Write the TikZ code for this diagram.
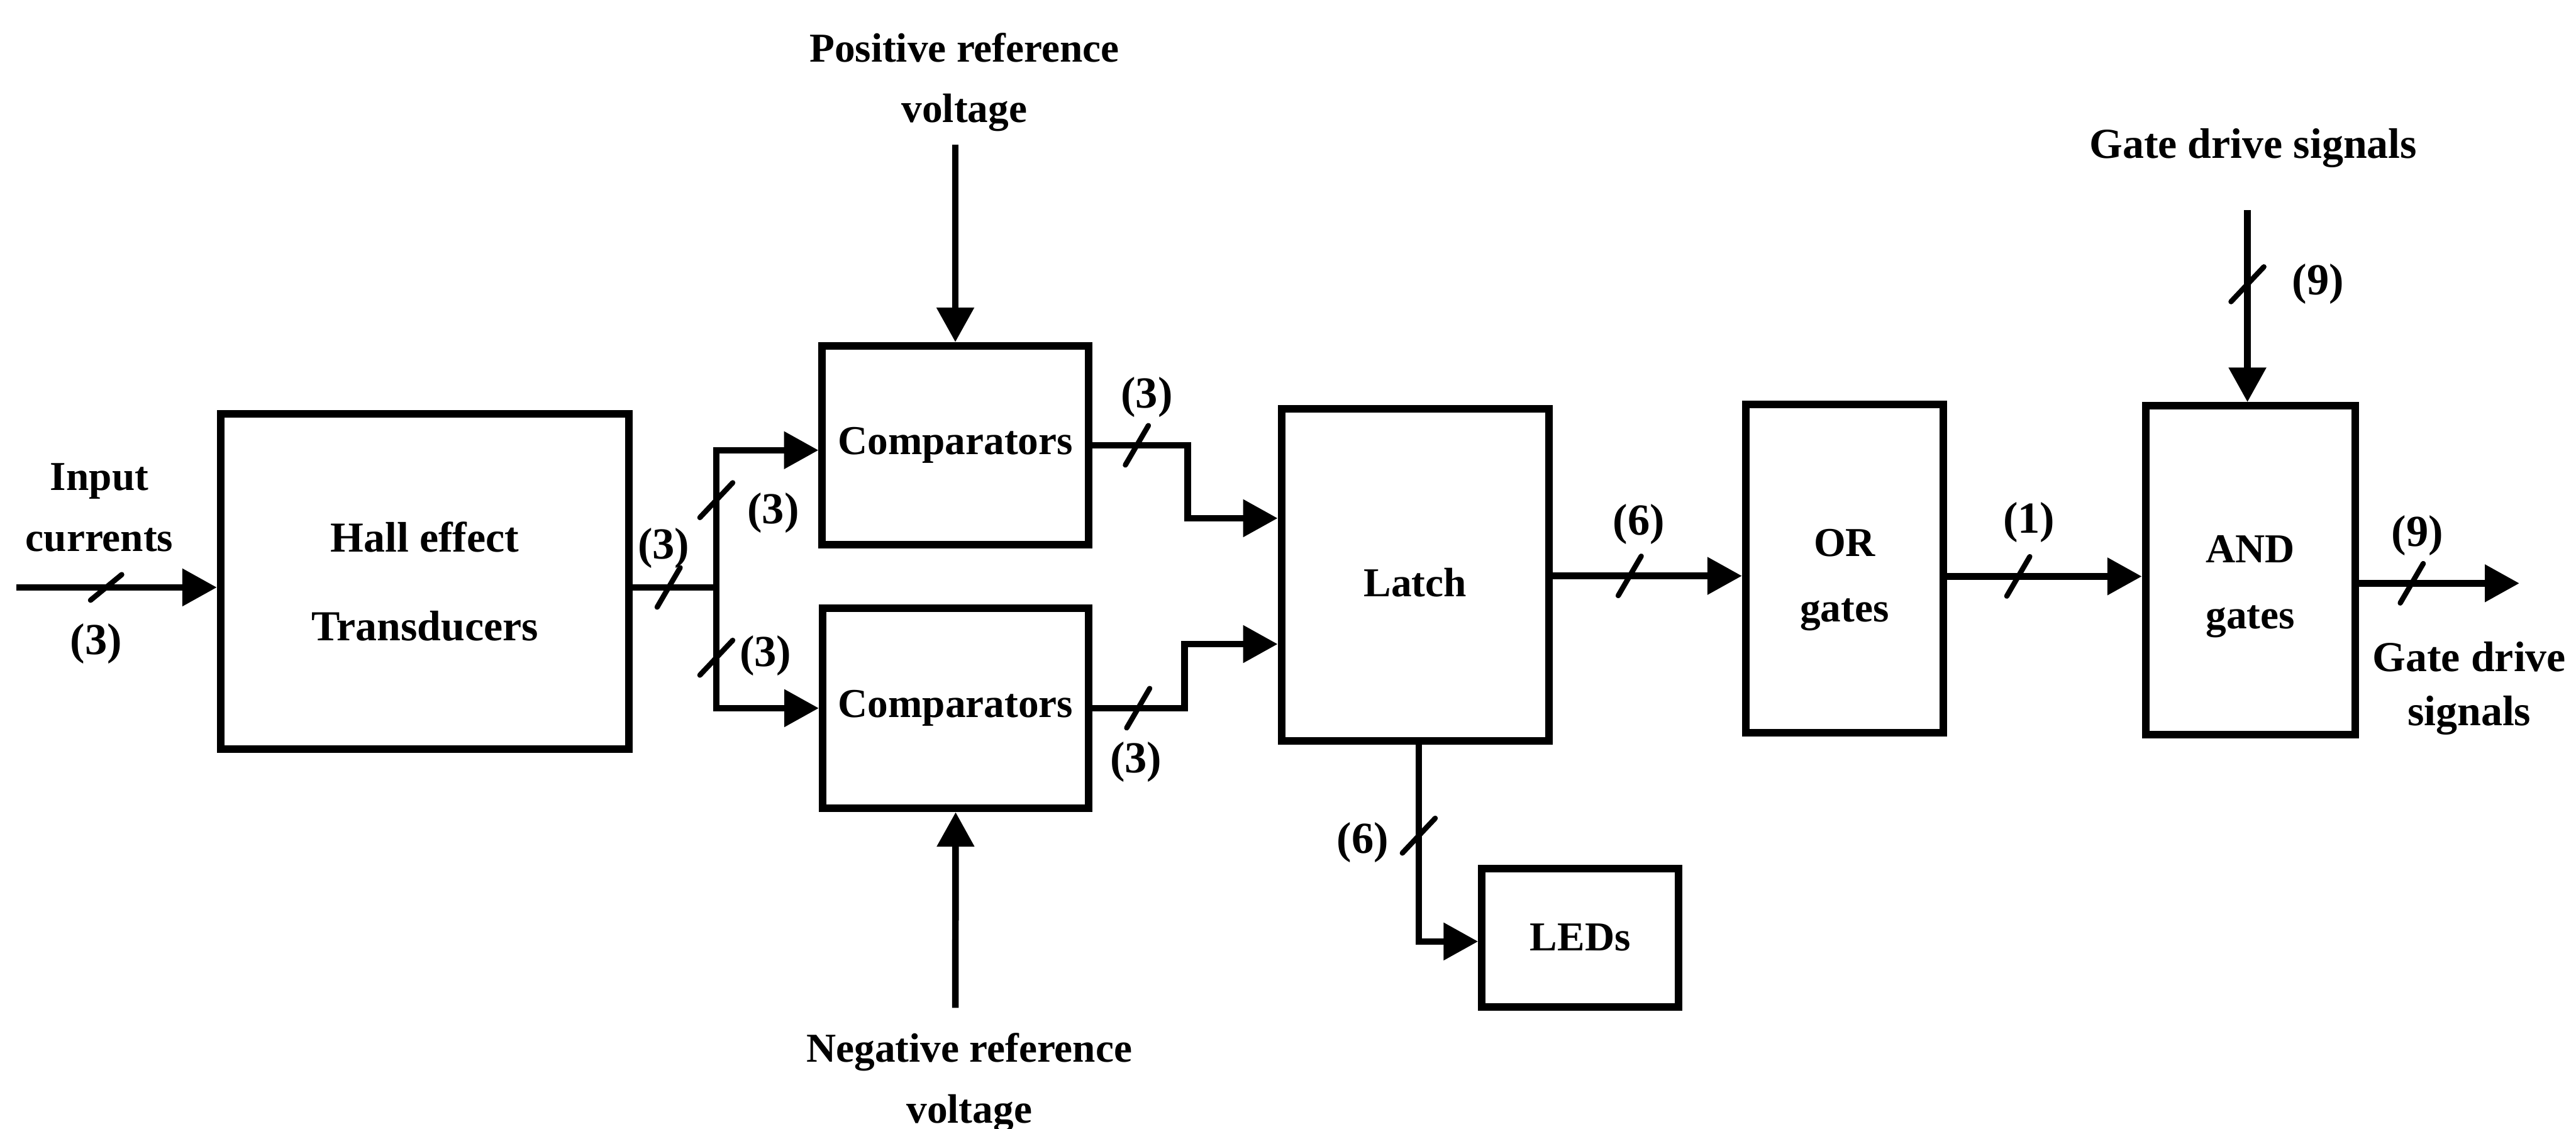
\documentclass[tikz,border=0pt]{standalone}
\usepackage{fontspec}
\setmainfont{Liberation Serif}
\usetikzlibrary{arrows.meta}
\begin{document}
\begin{tikzpicture}[x=0.5pt,y=-0.5pt,
  blk/.style={draw,line width=2.3pt,inner sep=0pt,align=center,font=\fontsize{12.5}{18.5}\selectfont\bfseries},
  wire/.style={line width=2pt},
  arr/.style={wire,-{Triangle[length=10.5pt,width=11pt]}},
  lbl/.style={inner sep=0pt,align=center,font=\fontsize{12.5}{18.5}\selectfont\bfseries},
  num/.style={inner sep=0pt,font=\fontsize{13.5}{16}\selectfont\bfseries},
  hs/.pic={\draw[line width=1.6pt,line cap=round] (-3.5pt,-6pt) -- (3.5pt,6pt);},
  hsw/.pic={\draw[line width=1.6pt,line cap=round] (-4.75pt,-3.9pt) -- (4.75pt,3.9pt);},
  vs/.pic={\draw[line width=1.6pt,line cap=round] (-5pt,-5.3pt) -- (5pt,5.3pt);},
]
\useasboundingbox (0,0) rectangle (1568,687);

% blocks
\node[blk,font=\fontsize{13}{18.5}\selectfont\bfseries,minimum width=124.3pt,minimum height=102pt] (hall) at (258.6,353.9) {Hall effect\\[8.3pt]Transducers};
\node[blk,minimum width=81pt,minimum height=60.5pt] (cu) at (581.5,271) {Comparators};
\node[blk,minimum width=81pt,minimum height=61pt] (cl) at (581.7,431) {Comparators};
\node[blk,minimum width=81.4pt,minimum height=101pt] (latch) at (861.4,349.9) {};
\node[blk,minimum width=60.2pt,minimum height=100pt] (orb) at (1122.8,346) {};
\node[blk,minimum width=63.8pt,minimum height=100pt] (andb) at (1369.8,347) {};
\node[blk,minimum width=59.9pt,minimum height=42.2pt] (leds) at (961.9,570.7) {LEDs};

% texts in blocks
\node[lbl] (latchT) at ([yshift=-2.3pt]latch.center) {Latch};
\node[lbl,font=\fontsize{12.5}{20}\selectfont\bfseries] (orT) at ([yshift=-3.5pt]orb.center) {OR\\gates};
\node[lbl,font=\fontsize{12.5}{20}\selectfont\bfseries] (andT) at ([yshift=-5pt]andb.center) {AND\\gates};

% free texts
\node[lbl] (tin) at (60.5,309) {Input\\currents};
\node[lbl] (tpos) at (587,50) {Positive reference\\voltage};
\node[lbl] (tneg) at (590,659) {Negative reference\\voltage};
\node[lbl,font=\fontsize{13}{16}\selectfont\bfseries] (tgtop) at (1371.5,90) {Gate drive signals};
\node[lbl,font=\fontsize{13}{16.5}\selectfont\bfseries] (tgout) at (1503,419) {Gate drive\\signals};

% helper coordinates
\coordinate (in0) at (10,357.5);
\coordinate (J) at (436,357.5);
\coordinate (Jt) at (436,274);
\coordinate (Jb) at (436,431);
\coordinate (ub) at (723,315.4);
\coordinate (lb) at (721,392);
\coordinate (ptop) at (581.5,88);
\coordinate (nbot) at (581.5,613.4);
\coordinate (yl) at (0,350.5);
\coordinate (yo) at (0,350.8);
\coordinate (aout) at (1533.5,355);
\coordinate (gtop) at (1368,128);
\coordinate (lc) at (863.6,573);

% connectors
\draw[arr] (in0) -- (in0 -| hall.west);
\draw[wire] (J -| hall.east) -- (J);
\draw[arr] (J) -- (Jt) -- (Jt -| cu.west);
\draw[arr] (J) -- (Jb) -- (Jb -| cl.west);
\draw[arr] (cu.east) -| (ub) -- (ub -| latch.west);
\draw[arr] (cl.east) -| (lb) -- (lb -| latch.west);
\draw[arr] (ptop) -- (cu.north);
\draw[arr] (nbot) -- (cl.south);
\draw[arr] (latch.east |- yl) -- (orb.west |- yl);
\draw[arr] (orb.east |- yo) -- (andb.west |- yo);
\draw[arr] (aout -| andb.east) -- (aout);
\draw[arr] (gtop) -- (gtop |- andb.north);
\draw[arr] (lc |- latch.south) -- (lc) -- (lc -| leds.west);

% bus slashes
\pic at (64.6,357.5) {hsw};
\pic at (407,357.5) {hs};
\pic at (436,304.4) {vs};
\pic at (436,400.3) {vs};
\pic at (692,271) {hs};
\pic at (692.8,431) {hs};
\pic at (992,350.5) {hs};
\pic at (863.6,508.6) {vs};
\pic at (1228.5,350.8) {hs};
\pic at (1468,355) {hs};
\pic at (1368,173) {vs};

% bus widths
\node[num] (n1) at (58.6,392) {(3)};
\node[num] (n2) at (404,333.7) {(3)};
\node[num] (n3) at (470.7,312) {(3)};
\node[num] (n4) at (466,399.2) {(3)};
\node[num] (n5) at (698,241.7) {(3)};
\node[num] (n6) at (691.4,463.7) {(3)};
\node[num] (n7) at (997.6,318.9) {(6)};
\node[num] (n8) at (829.5,512.7) {(6)};
\node[num] (n9) at (1235,318) {(1)};
\node[num] (n10) at (1471.4,325.9) {(9)};
\node[num] (n11) at (1411,173) {(9)};
\end{tikzpicture}
\end{document}
